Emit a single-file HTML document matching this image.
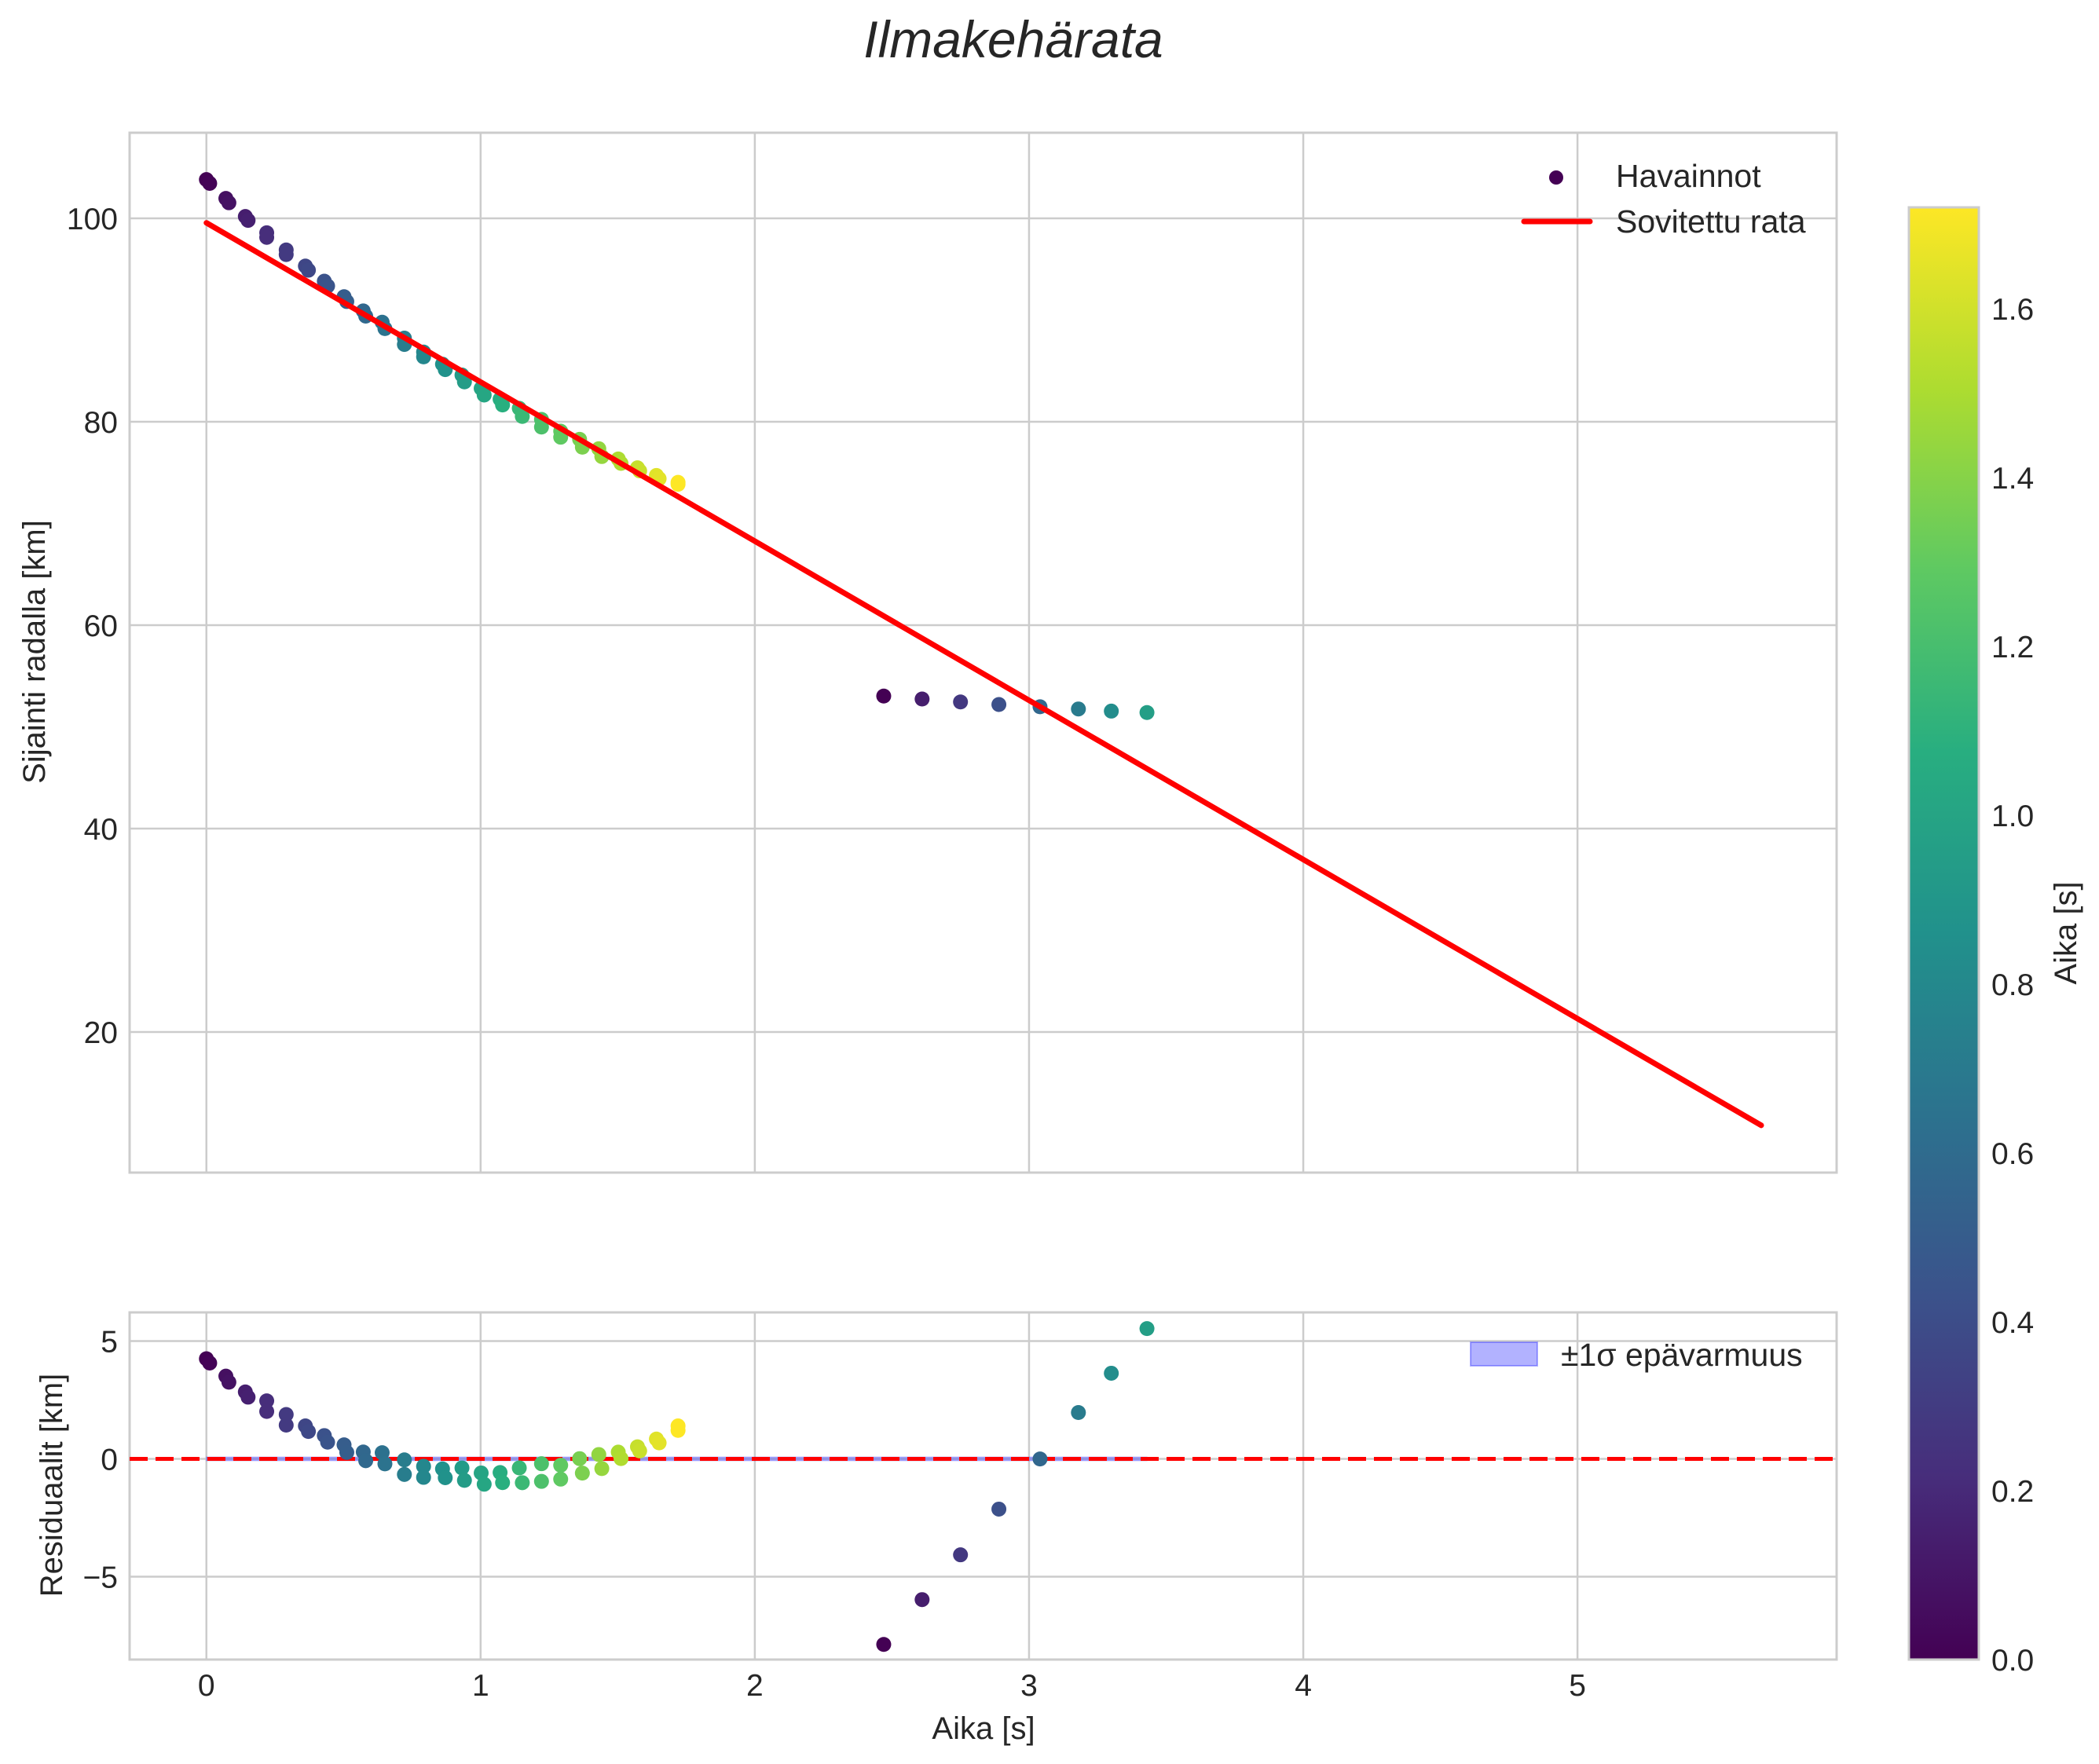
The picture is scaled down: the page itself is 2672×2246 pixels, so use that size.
<!DOCTYPE html>
<html><head><meta charset="utf-8"><style>
html,body{margin:0;padding:0;background:#fff;}
svg{display:block;font-family:"Liberation Sans",sans-serif;}
</style></head><body>
<svg id="chart" width="2672" height="2246" viewBox="0 0 2672 2246" xmlns="http://www.w3.org/2000/svg">
<defs>
<linearGradient id="vir" x1="0" y1="1" x2="0" y2="0">
<stop offset="0" stop-color="#440154"/><stop offset="0.125" stop-color="#472d7b"/><stop offset="0.25" stop-color="#3b528b"/><stop offset="0.375" stop-color="#2c728e"/><stop offset="0.5" stop-color="#21918c"/><stop offset="0.625" stop-color="#28ae80"/><stop offset="0.75" stop-color="#5ec962"/><stop offset="0.875" stop-color="#addc30"/><stop offset="1" stop-color="#fde725"/>
</linearGradient>
<clipPath id="clipTop"><rect x="165" y="169" width="2173" height="1324"/></clipPath>
<clipPath id="clipBot"><rect x="165" y="1671" width="2173" height="442"/></clipPath>
</defs>
<text x="1290" y="73" text-anchor="middle" font-size="66" font-style="italic" fill="#262626">Ilmakehärata</text>
<g id="topPanel"></g>
<g id="botPanel"></g>
<g id="cbarPanel"></g>
</svg>
<script>
// ---- data ----
const obsTime = [0,0.012,0.071,0.082,0.142,0.152,0.220,0.220,0.291,0.291,0.361,0.372,0.430,0.442,0.502,0.512,0.572,0.581,0.641,0.651,0.722,0.722,0.792,0.792,0.861,0.871,0.932,0.941,1.002,1.013,1.071,1.080,1.141,1.152,1.222,1.222,1.292,1.292,1.361,1.371,1.431,1.442,1.502,1.512,1.572,1.580,1.641,1.651,1.720,1.720,2.47,2.61,2.75,2.89,3.04,3.18,3.30,3.43];
const obsPos = [103.81,103.44,101.96,101.53,100.18,99.80,98.58,98.13,96.89,96.44,95.31,94.90,93.82,93.35,92.30,91.82,90.90,90.39,89.79,89.16,88.22,87.60,86.85,86.38,85.66,85.13,84.59,83.92,83.28,82.63,82.22,81.65,81.32,80.52,80.23,79.48,79.07,78.48,78.27,77.50,77.35,76.58,76.34,75.91,75.47,75.17,74.72,74.40,74.04,73.85,53.03,52.74,52.45,52.20,51.98,51.76,51.55,51.41];
const obsColor = [0,0.012,0.071,0.082,0.142,0.152,0.220,0.220,0.291,0.291,0.361,0.372,0.430,0.442,0.502,0.512,0.572,0.581,0.641,0.651,0.722,0.722,0.792,0.792,0.861,0.871,0.932,0.941,1.002,1.013,1.071,1.080,1.141,1.152,1.222,1.222,1.292,1.292,1.361,1.371,1.431,1.442,1.502,1.512,1.572,1.580,1.641,1.651,1.720,1.720,0,0.14,0.28,0.42,0.57,0.71,0.83,0.96];
const fitIntercept = [99.56];
const fitSlope = [-15.65];
const fitRange = [0, 5.67];
const sigmaBand = [0.08];
const topTicks = [20,40,60,80,100];
const botTicks = [-5,0,5];
const xTicks = [0,1,2,3,4,5];
const cbarTicks = [0.0,0.2,0.4,0.6,0.8,1.0,1.2,1.4,1.6];
const colorMax = [1.72];

// ---- axes ----
const L=165,R=2338,T1=169,B1=1493,T2=1671,B2=2113;
const xMin=-0.28,xMax=5.945;
const X=t=>L+(t-xMin)/(xMax-xMin)*(R-L);
const Y1=v=>278+(100-v)*12.95;
const Y2=v=>1857.5-v*30;
const CB=c=>2113-c/colorMax[0]*(2113-264);
const NS="http://www.w3.org/2000/svg";
function mk(tag,parent,attrs){const e=document.createElementNS(NS,tag);for(const k in attrs)e.setAttribute(k,attrs[k]);parent.appendChild(e);return e;}
const vStops=[[68,1,84],[71,45,123],[59,82,139],[44,114,142],[33,145,140],[40,174,128],[94,201,98],[173,220,48],[253,231,37]];
function vir(c){let f=Math.max(0,Math.min(1,c/colorMax[0]))*8;let i=Math.min(7,Math.floor(f));let r=f-i;const a=vStops[i],b=vStops[i+1];return `rgb(${Math.round(a[0]+(b[0]-a[0])*r)},${Math.round(a[1]+(b[1]-a[1])*r)},${Math.round(a[2]+(b[2]-a[2])*r)})`;}
const fitFn=t=>fitIntercept[0]+fitSlope[0]*t;
const FS=39;

// ---- top panel ----
const topG=document.getElementById('topPanel');
xTicks.forEach(t=>{const g=mk('line',topG,{x1:X(t),x2:X(t),y1:T1,y2:B1,stroke:'#cccccc','stroke-width':2.5});

});
topTicks.forEach(v=>{const g=mk('line',topG,{x1:L,x2:R,y1:Y1(v),y2:Y1(v),stroke:'#cccccc','stroke-width':2.5});


const tx=mk('text',topG,{x:150,y:Y1(v)+14,'text-anchor':'end','font-size':FS,fill:'#262626'});tx.textContent=v;

});
const fr1=mk('rect',topG,{x:L,y:T1,width:R-L,height:B1-T1,fill:'none',stroke:'#cccccc','stroke-width':3});


const gpts=mk('g',topG,{'clip-path':'url(#clipTop)'});
obsTime.forEach((t,i)=>{const c=mk('circle',gpts,{cx:X(t),cy:Y1(obsPos[i]),r:9.5,fill:vir(obsColor[i])});

});
const fl=mk('line',gpts,{x1:X(fitRange[0]),y1:Y1(fitFn(fitRange[0])),x2:X(fitRange[1]),y2:Y1(fitFn(fitRange[1])),stroke:'#ff0000','stroke-width':7,'stroke-linecap':'round'});


const yl1=mk('text',topG,{x:0,y:0,transform:'translate(57,830) rotate(-90)','text-anchor':'middle','font-size':40,fill:'#262626'});yl1.textContent='Sijainti radalla [km]';


const lg=mk('g',topG,{});


mk('circle',lg,{cx:1981,cy:226,r:9,fill:'#440154'});
const l1=mk('text',lg,{x:2057,y:238,'font-size':41,fill:'#262626'});l1.textContent='Havainnot';


mk('line',lg,{x1:1940,x2:2024,y1:282,y2:282,stroke:'#ff0000','stroke-width':7,'stroke-linecap':'round'});
const l2=mk('text',lg,{x:2057,y:296,'font-size':41,fill:'#262626'});l2.textContent='Sovitettu rata';



// ---- bottom panel ----
const botG=document.getElementById('botPanel');
xTicks.forEach(t=>{const g=mk('line',botG,{x1:X(t),x2:X(t),y1:T2,y2:B2,stroke:'#cccccc','stroke-width':2.5});


const tx=mk('text',botG,{x:X(t),y:2159,'text-anchor':'middle','font-size':FS,fill:'#262626'});tx.textContent=t;

});
botTicks.forEach(v=>{const g=mk('line',botG,{x1:L,x2:R,y1:Y2(v),y2:Y2(v),stroke:'#cccccc','stroke-width':2.5});


const tx=mk('text',botG,{x:150,y:Y2(v)+14,'text-anchor':'end','font-size':FS,fill:'#262626'});tx.textContent=v<0?'\u2212'+Math.abs(v):v;

});
const fr2=mk('rect',botG,{x:L,y:T2,width:R-L,height:B2-T2,fill:'none',stroke:'#cccccc','stroke-width':3});


const gb=mk('g',botG,{'clip-path':'url(#clipBot)'});
const tMinObs=Math.min(...obsTime),tMaxObs=Math.max(...obsTime);
const band=mk('rect',gb,{x:X(tMinObs),y:Y2(sigmaBand[0]),width:X(tMaxObs)-X(tMinObs),height:Y2(-sigmaBand[0])-Y2(sigmaBand[0]),fill:'rgba(0,0,255,0.3)',stroke:'rgba(0,0,255,0.25)','stroke-width':1});


const zl=mk('line',gb,{x1:L,x2:R,y1:Y2(0),y2:Y2(0),stroke:'#ff0000','stroke-width':5,'stroke-dasharray':'23 10'});


obsTime.forEach((t,i)=>{const c=mk('circle',gb,{cx:X(t),cy:Y2(obsPos[i]-fitFn(t)),r:9.5,fill:vir(obsColor[i])});

});
const yl2=mk('text',botG,{x:0,y:0,transform:'translate(79,1891) rotate(-90)','text-anchor':'middle','font-size':40,fill:'#262626'});yl2.textContent='Residuaalit [km]';


const xl=mk('text',botG,{x:1252,y:2214,'text-anchor':'middle','font-size':40,fill:'#262626'});xl.textContent='Aika [s]';


const lg2=mk('g',botG,{});


mk('rect',lg2,{x:1872,y:1709,width:85,height:30,fill:'rgba(0,0,255,0.3)',stroke:'rgba(0,0,255,0.3)','stroke-width':2});
const l3=mk('text',lg2,{x:1987,y:1739,'font-size':41,fill:'#262626'});l3.textContent='±1σ epävarmuus';



// ---- colorbar ----
const cbG=document.getElementById('cbarPanel');
const cr=mk('rect',cbG,{x:2430,y:264,width:89,height:1849,fill:'url(#vir)',stroke:'#cccccc','stroke-width':3});


cbarTicks.forEach(v=>{const tx=mk('text',cbG,{x:2535,y:CB(v)+14,'font-size':FS,fill:'#262626'});tx.textContent=v.toFixed(1);

});
const cl=mk('text',cbG,{x:0,y:0,transform:'translate(2643,1188) rotate(-90)','text-anchor':'middle','font-size':40,fill:'#262626'});cl.textContent='Aika [s]';


</script>
</body></html>
